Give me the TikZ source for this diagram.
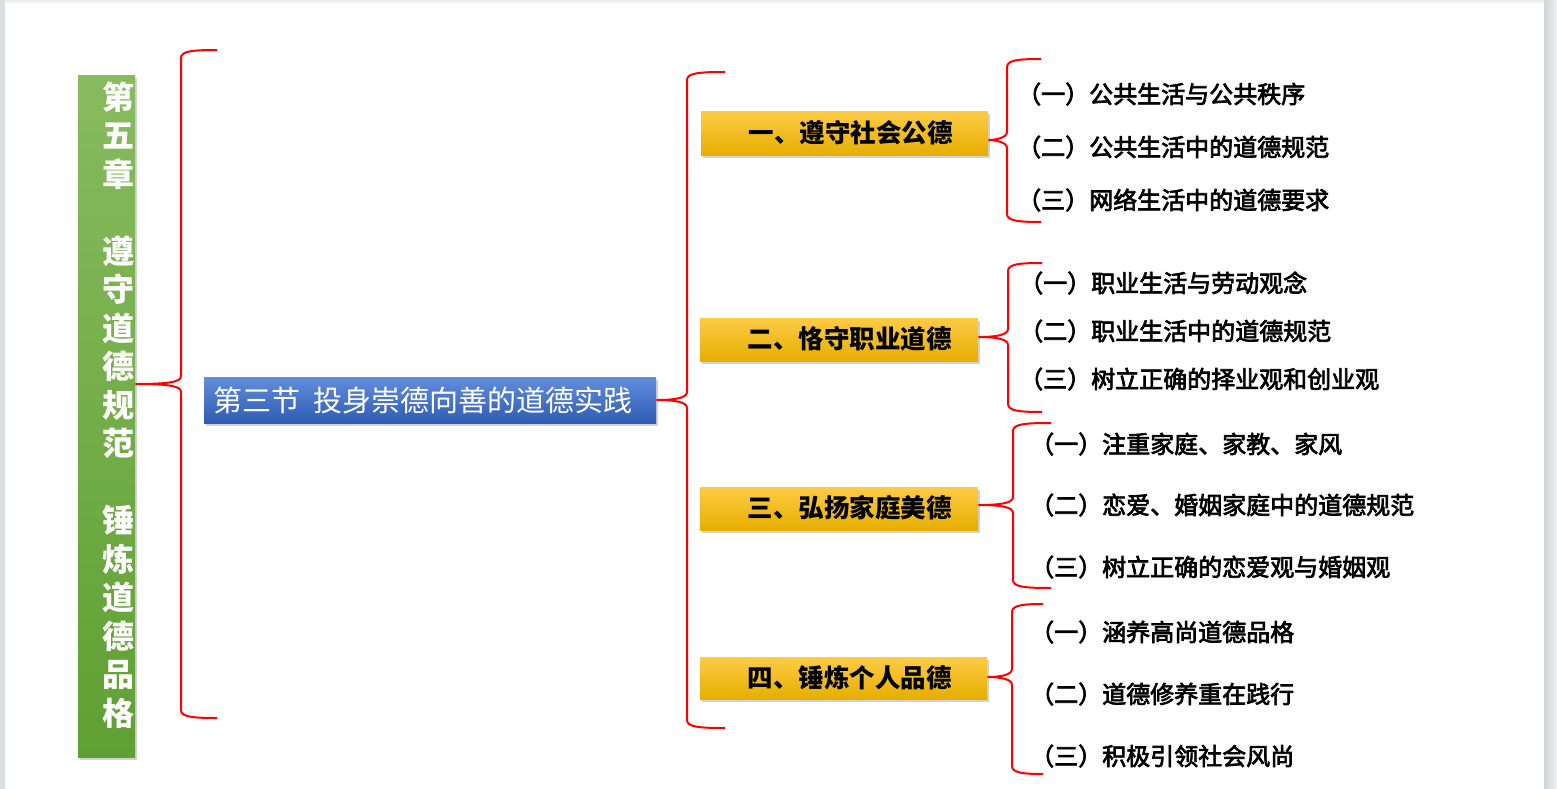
\documentclass[tikz,border=0pt]{standalone}
\usepackage{fontspec}
\newfontfamily\cjk{Noto Sans CJK SC}
\newcommand\medw[1]{\special{pdf:code 2 Tr 0.7 w}#1\special{pdf:code 0 Tr}}
\usetikzlibrary{shadows}
\definecolor{gtop}{HTML}{88BB5F}
\definecolor{gbot}{HTML}{5FA033}
\definecolor{btop}{HTML}{638DDB}
\definecolor{bbot}{HTML}{2D5CB3}
\definecolor{ytop}{HTML}{FDCB45}
\definecolor{ymid}{HTML}{FFC000}
\definecolor{ybot}{HTML}{E6AE00}
\definecolor{edgegray}{HTML}{DCDDE0}
\definecolor{bred}{HTML}{FF0000}
\newcommand\rbr[6]{% #1 node, #2 tip y, #3 vertical x, #4 top y, #5 bottom y, #6 end x
  \draw[bracestyle] (#6,#4) .. controls ({#3+12},#4) and (#3,{#4+1}) .. (#3,{#4+8})
    -- (#3,{#2-8}) .. controls (#3,{#2-2}) and ({#3-12},#2) .. (#1.east |- 0,#2)
    .. controls ({#3-12},#2) and (#3,{#2+2}) .. (#3,{#2+8})
    -- (#3,{#5-8}) .. controls (#3,{#5-1}) and ({#3+12},#5) .. (#6,#5);}
\begin{document}
\begin{tikzpicture}[x=1pt,y=-1pt,
  bracestyle/.style={draw=bred,line width=2pt},
  boxshadow/.style={drop shadow={opacity=0.35,shadow xshift=2pt,shadow yshift=-3pt}},
  greenbox/.style={boxshadow,top color=gtop,bottom color=gbot,draw=none,inner sep=0pt},
  bluebox/.style={boxshadow,top color=btop,bottom color=bbot,draw=none,inner sep=0pt},
  ybox/.style={boxshadow,top color=ytop,middle color=ymid,bottom color=ybot,draw=none,inner sep=0pt},
  gtext/.style={text=white,font=\cjk\bfseries\fontsize{32}{32}\selectfont,inner sep=0pt,text height=26.5pt,text depth=2.2pt},
  btext/.style={text=white,font=\cjk\fontsize{29}{30}\selectfont,inner sep=0pt,text height=24pt,text depth=2pt},
  ytext/.style={text=black,font=\cjk\bfseries\fontsize{25.5}{28}\selectfont,inner sep=0pt,text height=21.2pt,text depth=1.8pt},
  itext/.style={text=black,font=\cjk\fontsize{24}{26}\selectfont,inner sep=0pt,anchor=west,text height=19.9pt,text depth=1.6pt}]
\useasboundingbox (0,0) rectangle (1557,789);
\fill[white] (0,0) rectangle (1557,789);
\fill[edgegray] (0,0) rectangle (5,789);
\shade[left color=edgegray!95!black,right color=edgegray!40] (1544,0) rectangle (1557,789);
\shade[top color=black!8,bottom color=white] (5,0) rectangle (1544,4);

% chapter box
\node[greenbox,minimum width=57pt,minimum height=682pt,anchor=north west] (ch) at (78,75) {};
\foreach \c/\k in {第/0,五/1,章/2,遵/4,守/5,道/6,德/7,规/8,范/9,锤/11,炼/12,道/13,德/14,品/15,格/16}
  \node[gtext] (g\k) at (118,{97+38.5*\k}) {\c};

% section box
\node[bluebox,minimum width=452pt,minimum height=46pt,anchor=north west] (sec) at (204,377) {};
\node[btext,anchor=west] (sect) at (213,400) {第三节\hspace{13pt}投身崇德向善的道德实践};

% yellow boxes
\node[ybox,minimum width=287pt,minimum height=44pt,anchor=north west] (y1) at (701,111) {};
\node[ybox,minimum width=278pt,minimum height=43pt,anchor=north west] (y2) at (700,318) {};
\node[ybox,minimum width=278pt,minimum height=43pt,anchor=north west] (y3) at (700,487) {};
\node[ybox,minimum width=287pt,minimum height=42pt,anchor=north west] (y4) at (700,657) {};
\node[ytext,anchor=east] (y1t) at (953,133) {一、遵守社会公德};
\node[ytext,anchor=east] (y2t) at (952,339) {二、恪守职业道德};
\node[ytext,anchor=east] (y3t) at (952,508) {三、弘扬家庭美德};
\node[ytext,anchor=east] (y4t) at (952,678) {四、锤炼个人品德};

% items
\node[itext] (a1) at (1017,94) {\medw{（一）公共生活与公共秩序}};
\node[itext] (a2) at (1017,147) {\medw{（二）公共生活中的道德规范}};
\node[itext] (a3) at (1017,200) {\medw{（三）网络生活中的道德要求}};
\node[itext] (b1) at (1019,283) {\medw{（一）职业生活与劳动观念}};
\node[itext] (b2) at (1019,331) {\medw{（二）职业生活中的道德规范}};
\node[itext] (b3) at (1019,379) {\medw{（三）树立正确的择业观和创业观}};
\node[itext] (c1) at (1030,444) {\medw{（一）注重家庭、家教、家风}};
\node[itext] (c2) at (1030,505) {\medw{（二）恋爱、婚姻家庭中的道德规范}};
\node[itext] (c3) at (1030,567) {\medw{（三）树立正确的恋爱观与婚姻观}};
\node[itext] (d1) at (1030,632) {\medw{（一）涵养高尚道德品格}};
\node[itext] (d2) at (1030,694) {\medw{（二）道德修养重在践行}};
\node[itext] (d3) at (1030,756) {\medw{（三）积极引领社会风尚}};

% braces
\rbr{ch}{384}{181}{50}{718}{217}
\rbr{sec}{400}{687}{72}{728}{725}
\rbr{y1}{140}{1007}{59}{222}{1041}
\rbr{y2}{337}{1008}{263}{412}{1042}
\rbr{y3}{505}{1013}{423}{588}{1051}
\rbr{y4}{677}{1012}{604}{774}{1043}
\end{tikzpicture}
\end{document}
